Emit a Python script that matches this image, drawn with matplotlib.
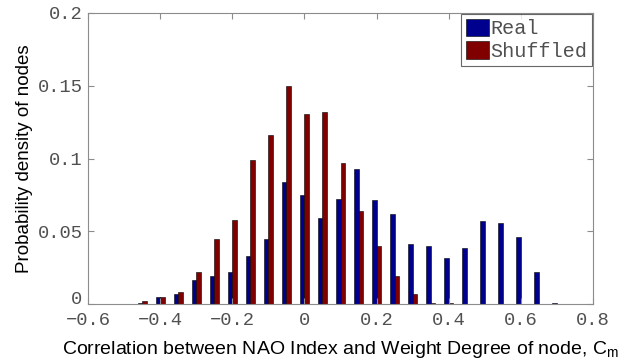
import matplotlib
matplotlib.use('Agg')
import matplotlib.pyplot as plt
import matplotlib.transforms as mtransforms
import numpy as np

# bin centres and probability densities
centres = [-0.45, -0.40, -0.35, -0.30, -0.25, -0.20, -0.15, -0.10, -0.05, 0.00,
           0.05, 0.10, 0.15, 0.20, 0.25, 0.30, 0.35, 0.40, 0.45, 0.50,
           0.55, 0.60, 0.65, 0.70]
real = [0.001, 0.0048, 0.0071, 0.0167, 0.0192, 0.0218, 0.0328, 0.0449, 0.0836, 0.0751,
        0.0591, 0.0724, 0.0930, 0.0715, 0.0616, 0.0412, 0.0399, 0.0316, 0.0387, 0.0570,
        0.0557, 0.0460, 0.0218, 0.001]
shuffled = [0.0023, 0.0048, 0.0082, 0.0218, 0.0449, 0.0580, 0.0992, 0.1164, 0.1500, 0.1308,
            0.1320, 0.0969, 0.0641, 0.0399, 0.0192, 0.0071, 0.001, 0.001, 0.0, 0.0,
            0.0, 0.0, 0.0, 0.0]
xticks = [-0.6, -0.4, -0.2, 0, 0.2, 0.4, 0.6, 0.8]
yticks = [0, 0.05, 0.1, 0.15, 0.2]

plt.rcParams['mathtext.fontset'] = 'custom'
plt.rcParams['mathtext.rm'] = 'Liberation Sans'

fig = plt.figure(figsize=(6.27, 3.64), dpi=100)
ax = fig.add_axes([0.1404, 0.1648, 0.8054, 0.7995])

x = np.array(centres)
w = 0.0125
ax.bar(x - w / 2, real, width=w, color='#00008f', edgecolor='black', linewidth=0.4, label='Real')
ax.bar(x + w / 2, shuffled, width=w, color='#800000', edgecolor='black', linewidth=0.4, label='Shuffled')

ax.set_xlim(-0.6, 0.8)
ax.set_ylim(0, 0.2)
ax.set_xticks(xticks)
ax.set_xticklabels(['\u22120.6', '\u22120.4', '\u22120.2', '0', '0.2', '0.4', '0.6', '0.8'])
ax.set_yticks(yticks)
ax.set_yticklabels(['0', '0.05', '0.1', '0.15', '0.2'])

for s in ax.spines.values():
    s.set_color('#8c8c8c')
ax.tick_params(direction='in', top=True, right=True, length=4, color='#8c8c8c',
               labelcolor='#505050', labelsize=13.5)
ax.tick_params(axis='x', pad=6)
ax.tick_params(axis='y', pad=4)
for lab in ax.get_xticklabels() + ax.get_yticklabels():
    lab.set_family(['Liberation Mono', 'DejaVu Sans Mono'])

# lift the y "0" a little so it sits above the -0.6 label
zero = ax.get_yticklabels()[0]
zero.set_transform(zero.get_transform() + mtransforms.ScaledTranslation(0, 5 / 72, fig.dpi_scale_trans))

ax.set_xlabel('Correlation between NAO Index and Weight Degree of node, C$_\\mathrm{m}$',
              fontsize=14, family='Liberation Sans', labelpad=7)
ax.set_ylabel('Probability density of nodes', fontsize=13.5, family='Liberation Sans', labelpad=3)

leg = ax.legend(loc='upper right', fancybox=False, borderaxespad=0.03, handlelength=1.15,
                handleheight=0.95, handletextpad=0.05, borderpad=0.25, labelspacing=0.15,
                prop={'family': 'Liberation Mono', 'size': 14.5})
leg.get_frame().set_edgecolor('#404040')
leg.get_frame().set_linewidth(0.8)
for t in leg.get_texts():
    t.set_color('#505050')

fig.savefig('out.png', dpi=100)
